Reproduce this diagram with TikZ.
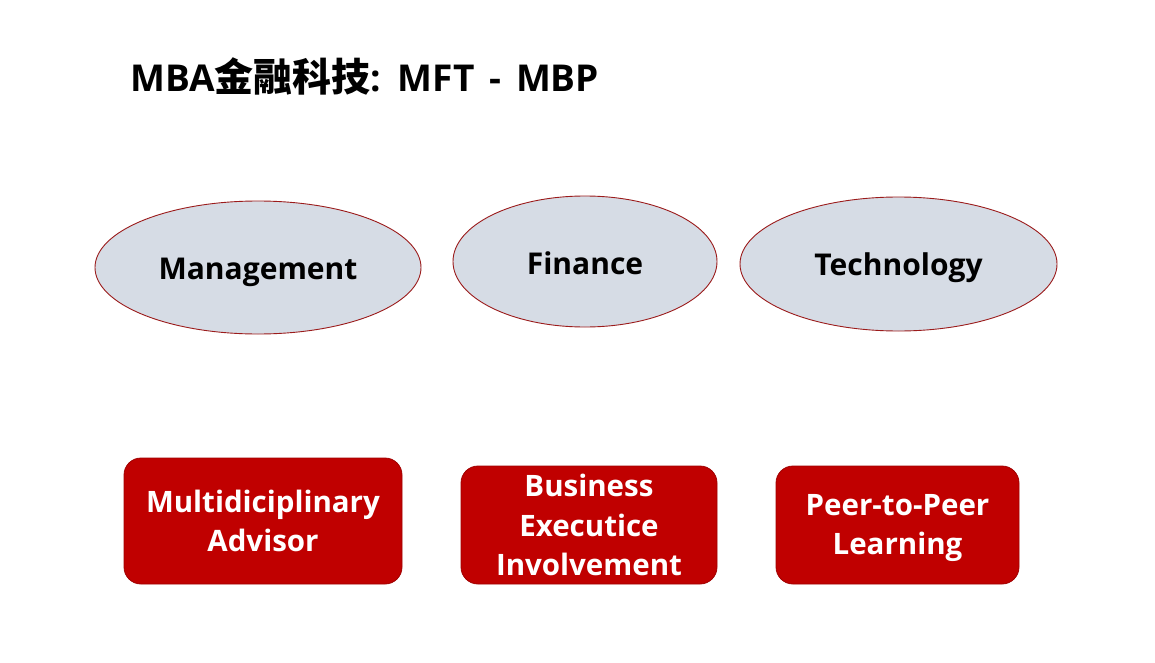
\documentclass[tikz,border=0pt]{standalone}
\usepackage{fontspec}
\setmainfont{Open Sans}[BoldFont={Open Sans Bold}]
\newfontfamily\cjk{Noto Sans CJK SC Bold}
\usetikzlibrary{shapes.geometric}
\definecolor{ellfill}{HTML}{D6DCE5}
\definecolor{ellline}{HTML}{9B1B1B}
\definecolor{boxfill}{HTML}{C00000}
\definecolor{boxline}{HTML}{A00000}
\tikzset{
  x=1pt,y=-1pt,
  oval/.style={ellipse, draw=ellline, fill=ellfill, line width=0.9pt, inner sep=0pt},
  ovaltext/.style={inner sep=0pt, font=\fontsize{30}{34}\selectfont\bfseries, text=black},
  redbox/.style={rectangle, rounded corners=17pt, draw=boxline, fill=boxfill, line width=0.8pt, inner sep=0pt},
  boxtext/.style={inner sep=0pt, align=center, text=white, font=\fontsize{29.5}{39.5}\selectfont\bfseries},
}
\begin{document}
\begin{tikzpicture}
\useasboundingbox (0,0) rectangle (1155,663);
\node[anchor=base west, inner sep=0pt, font=\fontsize{37}{42}\selectfont\bfseries] (title) at (130,92) {MBA{\cjk\fontsize{39}{42}\selectfont 金融科技}:\hspace{0.45em}MFT\hspace{0.4em}-\hspace{0.4em}MBP};
\node[oval, minimum width=326pt, minimum height=133pt] (mgmt) at (258,267.5) {};
\node[oval, minimum width=264pt, minimum height=131pt] (fin) at (585,261.5) {};
\node[oval, minimum width=317pt, minimum height=134pt] (tech) at (898.5,264) {};
\node[ovaltext] (mgmtt) at ([yshift=-5pt]mgmt.center) {Management};
\node[ovaltext] (fint) at ([yshift=-2pt]fin.center) {Finance};
\node[ovaltext] (techt) at ([yshift=-4pt]tech.center) {Technology};
\node[redbox, minimum width=278pt, minimum height=126pt] (advisor) at (263,521) {};
\node[redbox, minimum width=256pt, minimum height=118pt] (exec) at (589,525) {};
\node[redbox, minimum width=243pt, minimum height=118pt] (peer) at (897.5,525) {};
\node[boxtext] (advisort) at (advisor.center) {Multidiciplinary\\Advisor};
\node[boxtext] (exect) at (exec.center) {Business\\Executice\\Involvement};
\node[boxtext] (peert) at ([yshift=-3pt]peer.center) {Peer-to-Peer\\Learning};
\end{tikzpicture}
\end{document}
